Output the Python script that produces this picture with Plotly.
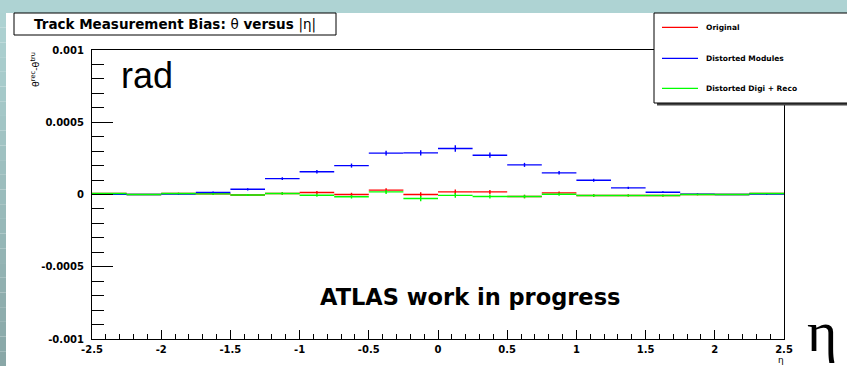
import plotly.graph_objects as go

# ---------------- data ----------------
bin_centers = [-2.375, -2.125, -1.875, -1.625, -1.375, -1.125, -0.875, -0.625, -0.375, -0.125,
               0.125, 0.375, 0.625, 0.875, 1.125, 1.375, 1.625, 1.875, 2.125, 2.375]
bin_half_width = 0.125

original = [0.000007, 0.0, 0.000007, 0.000004, -0.000003, 0.000007, 0.000014, 0.0, 0.00003, 0.0,
            0.000018, 0.000018, -0.000014, 0.000011, -0.000007, -0.000007, -0.000007, 0.0, 0.0, 0.000007]
original_err = [0.000004, 0.000004, 0.000005, 0.000006, 0.000007, 0.000008, 0.00001, 0.000012, 0.000014, 0.000016,
                0.000016, 0.000014, 0.000012, 0.00001, 0.000008, 0.000007, 0.000006, 0.000005, 0.000004, 0.000004]

distorted_modules = [0.000002, 0.0, 0.000003, 0.000014, 0.000036, 0.00011, 0.000157, 0.0002, 0.000286, 0.000288,
                     0.000318, 0.000272, 0.000205, 0.00015, 0.000099, 0.000046, 0.000016, 0.000002, 0.0, 0.000003]
distorted_modules_err = [0.000004, 0.000004, 0.000005, 0.000006, 0.000008, 0.00001, 0.000012, 0.000014, 0.000016, 0.000018,
                         0.000022, 0.000018, 0.000014, 0.000012, 0.00001, 0.000008, 0.000006, 0.000005, 0.000004, 0.000004]

distorted_digi_reco = [0.000007, 0.0, 0.000007, 0.000004, -0.000003, 0.000007, -0.000005, -0.000016, 0.000018, -0.000028,
                       -0.000006, -0.000014, -0.000014, 0.000002, -0.000007, -0.000007, -0.000007, 0.0, 0.0, 0.000007]
distorted_digi_reco_err = [0.000004, 0.000004, 0.000005, 0.000006, 0.000007, 0.000008, 0.00001, 0.000012, 0.000014, 0.000018,
                           0.000016, 0.000014, 0.000012, 0.00001, 0.000008, 0.000007, 0.000006, 0.000005, 0.000004, 0.000004]

series_names = ["Original", "Distorted Modules", "Distorted Digi + Reco"]
series_colors = ["#ff0000", "#0000ff", "#00ff00"]

x_tickvals = [-2.5, -2, -1.5, -1, -0.5, 0, 0.5, 1, 1.5, 2, 2.5]
x_ticktext = ["-2.5", "-2", "-1.5", "-1", "-0.5", "0", "0.5", "1", "1.5", "2", "2.5"]
y_tickvals = [-0.001, -0.0005, 0, 0.0005, 0.001]
y_ticktext = ["-0.001", "-0.0005", "0", "0.0005", "0.001"]

# ---------------- layout geometry (pixels) ----------------
W, H = 847, 366
L, R, T, B = 92, 784, 50, 339


def px(x):
    return (x - L) / (R - L)


def py(y):
    return (B - y) / (B - T)


fig = go.Figure()

for vals, errs, name, col in [
    (original, original_err, series_names[0], series_colors[0]),
    (distorted_modules, distorted_modules_err, series_names[1], series_colors[1]),
    (distorted_digi_reco, distorted_digi_reco_err, series_names[2], series_colors[2]),
]:
    fig.add_trace(go.Scatter(
        x=bin_centers, y=vals, name=name, mode="markers",
        marker=dict(size=1, color=col),
        error_x=dict(type="constant", value=bin_half_width, width=0, thickness=1.4, color=col),
        error_y=dict(type="data", array=errs, width=0, thickness=1.4, color=col),
        showlegend=False, hoverinfo="skip",
    ))

tickfont = dict(family="DejaVu Sans", size=10, color="black", weight="bold")

fig.update_layout(
    width=W, height=H,
    margin=dict(l=L, r=W - R, t=T, b=H - B, pad=0),
    paper_bgcolor="white", plot_bgcolor="white",
    xaxis=dict(range=[-2.5, 2.5], tickmode="array", tickvals=x_tickvals, ticktext=x_ticktext,
               ticks="inside", ticklen=9, tickwidth=1, tickcolor="black",
               minor=dict(ticks="inside", ticklen=5, dtick=0.1, tick0=0, tickcolor="black", tickwidth=1),
               showline=True, mirror=True, linecolor="black", linewidth=1,
               showgrid=False, zeroline=False, tickfont=tickfont, ticklabelstandoff=1),
    yaxis=dict(range=[-0.001, 0.001], tickmode="array", tickvals=y_tickvals, ticktext=y_ticktext,
               ticks="inside", ticklen=21, tickwidth=1, tickcolor="black",
               minor=dict(ticks="inside", ticklen=12, dtick=0.0001, tick0=0, tickcolor="black", tickwidth=1),
               showline=True, mirror=True, linecolor="black", linewidth=1,
               showgrid=False, zeroline=False, tickfont=tickfont, ticklabelstandoff=5),
)

shapes = []
# slide background strips
teal = "#aed3d3"
shapes.append(dict(type="rect", xref="paper", yref="paper", x0=px(0), x1=px(W), y0=py(13), y1=py(0),
                   fillcolor=teal, line=dict(width=0), layer="below"))
n = 24
top_c = (0xae, 0xd3, 0xd3)
bot_c = (0x88, 0xa6, 0xa6)
for i in range(n):
    y0 = 13 + (H - 13) * i / n
    y1 = 13 + (H - 13) * (i + 1) / n
    t = (i + 0.5) / n
    c = tuple(int(round(top_c[k] + (bot_c[k] - top_c[k]) * t)) for k in range(3))
    shapes.append(dict(type="rect", xref="paper", yref="paper", x0=px(0), x1=px(6), y0=py(y1), y1=py(y0),
                       fillcolor="rgb(%d,%d,%d)" % c, line=dict(width=0), layer="below"))

# title box
shapes.append(dict(type="rect", xref="paper", yref="paper", x0=px(14), x1=px(336), y0=py(35), y1=py(13),
                   fillcolor="white", line=dict(color="black", width=1), layer="above"))
# legend box + shadow
shapes.append(dict(type="rect", xref="paper", yref="paper", x0=px(657), x1=px(W + 5), y0=py(105.5), y1=py(16),
                   fillcolor="#444444", line=dict(width=0), layer="above"))
shapes.append(dict(type="rect", xref="paper", yref="paper", x0=px(654), x1=px(W + 5), y0=py(103), y1=py(13),
                   fillcolor="white", line=dict(color="black", width=1), layer="above"))
legend_y = [27.3, 58.3, 88.3]
for yy, col in zip(legend_y, series_colors):
    shapes.append(dict(type="line", xref="paper", yref="paper", x0=px(662), x1=px(698), y0=py(yy), y1=py(yy),
                       line=dict(color=col, width=1.2), layer="above"))
fig.update_layout(shapes=shapes)

ann = []
ann.append(dict(x=px(175), y=py(24.5), xref="paper", yref="paper", showarrow=False,
                text="<b>Track Measurement Bias: </b>θ<b> versus </b>|η|",
                font=dict(family="DejaVu Sans", size=13.5, color="black"), xanchor="center", yanchor="middle"))
for yy, name in zip(legend_y, series_names):
    ann.append(dict(x=px(704), y=py(yy), xref="paper", yref="paper", showarrow=False, text="<b>%s</b>" % name,
                    font=dict(family="DejaVu Sans", size=7.5, color="black"), xanchor="left", yanchor="middle"))
ann.append(dict(x=px(119), y=py(75), xref="paper", yref="paper", showarrow=False, text="rad",
                font=dict(family="Liberation Sans", size=36, color="black"), xanchor="left", yanchor="middle"))
ann.append(dict(x=px(470), y=py(297), xref="paper", yref="paper", showarrow=False, text="<b>ATLAS work in progress</b>",
                font=dict(family="DejaVu Sans", size=22.5, color="black"), xanchor="center", yanchor="middle"))
ann.append(dict(x=px(822), y=py(331), xref="paper", yref="paper", showarrow=False, text="η",
                font=dict(family="Liberation Serif", size=58, color="black"), xanchor="center", yanchor="middle"))
ann.append(dict(x=px(781), y=py(360), xref="paper", yref="paper", showarrow=False, text="η",
                font=dict(family="DejaVu Sans", size=9, color="black"), xanchor="center", yanchor="middle"))
ann.append(dict(x=px(35), y=py(70), xref="paper", yref="paper", showarrow=False, textangle=-90,
                text="θ<sup>rec</sup>-θ<sup>tru</sup>",
                font=dict(family="DejaVu Sans", size=9.5, color="black"), xanchor="center", yanchor="middle"))
fig.update_layout(annotations=ann)

fig.write_html("out.html")
